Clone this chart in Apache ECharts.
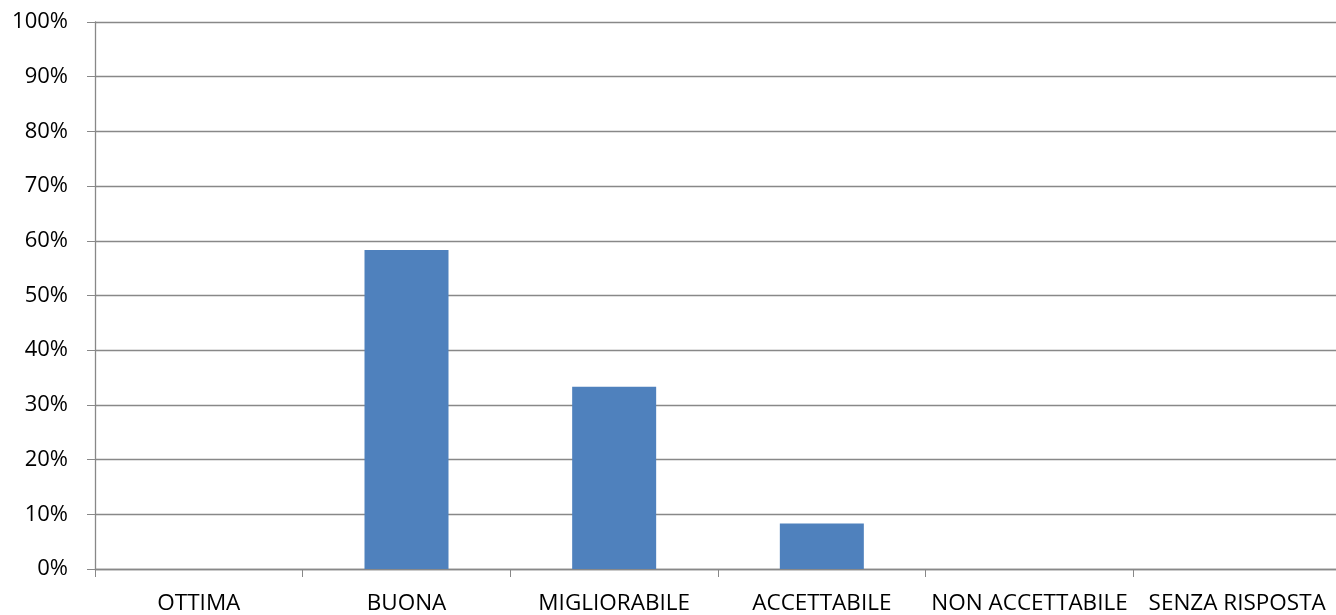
<!DOCTYPE html>
<html><head><meta charset="utf-8">
<script src="https://cdn.jsdelivr.net/npm/echarts@6/dist/echarts.min.js"></script>
<style>html,body{margin:0;padding:0;background:#fff;overflow:hidden}#c{width:1342px;height:615px}</style>
</head><body><div id="c"></div>
<script>
const categories = ["OTTIMA", "BUONA", "MIGLIORABILE", "ACCETTABILE", "NON ACCETTABILE", "SENZA RISPOSTA"];
const values = [0, 58.33, 33.33, 8.33, 0, 0];
const yTicks = [0, 10, 20, 30, 40, 50, 60, 70, 80, 90, 100];

const chart = echarts.init(document.getElementById('c'));
const font = "'Open Sans', 'Liberation Sans', sans-serif";
chart.setOption({
  animation: false,
  grid: { left: 95, top: 22, width: 1246, height: 548, containLabel: false },
  xAxis: {
    type: 'category', data: categories,
    axisLine: { lineStyle: { color: '#888', width: 1.3 } },
    axisTick: { show: true, length: 8, lineStyle: { color: '#888' } },
    axisLabel: { color: '#000', fontSize: 22.5, fontFamily: font, margin: 23, interval: 0 },
    splitLine: { show: false }
  },
  yAxis: {
    type: 'value', min: yTicks[0], max: yTicks[yTicks.length - 1], interval: 10,
    axisLine: { show: true, lineStyle: { color: '#888', width: 1.3 } },
    axisTick: { show: true, length: 8, lineStyle: { color: '#888' } },
    axisLabel: { color: '#000', fontSize: 22, fontFamily: font, margin: 27, formatter: v => v + '%' },
    splitLine: { show: true, lineStyle: { color: '#888', width: 1.3 } }
  },
  series: [{
    type: 'bar', data: values, barWidth: 84,
    itemStyle: { color: '#4F81BD' }
  }]
});
</script></body></html>
